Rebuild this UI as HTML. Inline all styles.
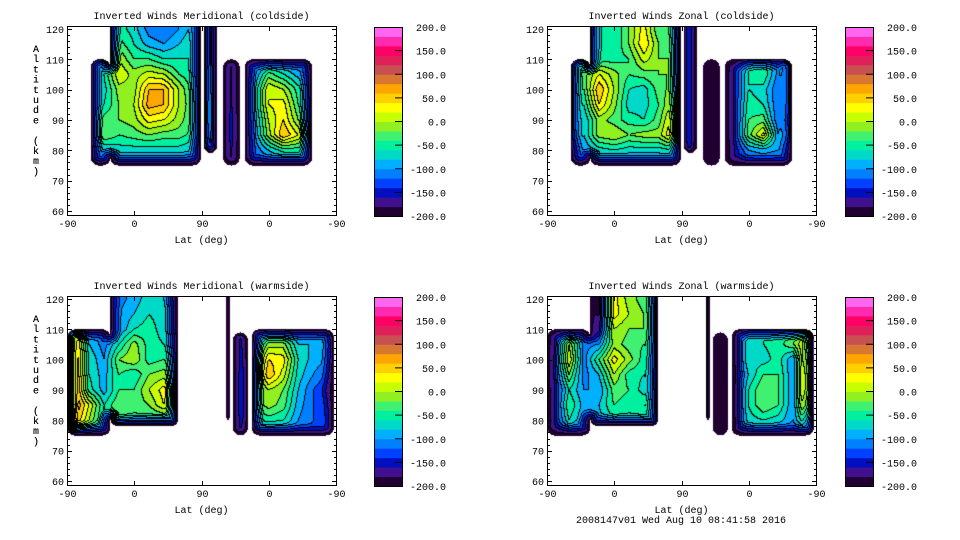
<!DOCTYPE html>
<html><head><meta charset="utf-8">
<style>
body{margin:0;background:#fff;width:960px;height:540px;overflow:hidden;position:relative;font-family:"Liberation Mono",monospace;}
canvas{position:absolute;}
svg{position:absolute;left:0;top:0;}
text{font-family:"Liberation Mono",monospace;font-size:10px;fill:#000;}
</style></head>
<body>
<div id="root"></div>
<svg id="svg" width="960" height="540"></svg>
<script>
const N = null;
const colS = [10,30,50,70,90,110,130,150,170,190,210,230,250,270,290,310,330,350];
const rowAlt = [120,115,110,105,100,95,90,85,80,75];
const colorLevels = [-200,-180,-160,-140,-120,-100,-80,-60,-40,-20,0,20,40,60,80,100,120,140,160,180,200];
const bandColors = ["#200030","#40108f","#0010c0","#0040ff","#0080ff","#00b0ff","#00d8c8","#00f0a0","#40f070","#90f020","#c8ff00","#ffff00","#ffd000","#ffa500","#d87830","#c85050","#e0205a","#ff0066","#ff2ab0","#ff66f0"];
const cbTickValues = [200,150,100,50,0,-50,-100,-150,-200];
const yTicks = [60,70,80,90,100,110,120];
const xTickLabels = ["-90","0","90","0","-90"];
const xTickPos = [0,90,180,270,360];

const tlValues = [
[N,-100,-80,-50,-70,-110,-120,-100,-70,-60,-150,-140,-130,-100,-100,-110,-120,N],
[N,-100,-70,-30,-60,-90,-100,-80,-60,-60,-150,-140,-130,-100,-100,-110,-120,N],
[N,-110,-60,0,-40,-40,-60,-60,-60,-60,-150,-140,-130,-110,-110,-120,-120,N],
[N,-100,-60,20,-10,10,0,-40,-60,-40,-150,-140,-110,-30,-60,-90,-100,N],
[N,-100,-70,-10,-10,60,60,0,-50,-40,-150,-140,-90,20,0,-50,-80,N],
[N,-100,-60,-20,0,70,60,0,-40,-30,-150,-140,-90,20,30,-40,-80,N],
[N,-100,-30,-20,-10,30,20,-10,-40,-30,-150,-130,-100,0,40,-20,-70,N],
[N,-100,-20,-40,-30,-20,-30,-30,-50,-40,-150,-130,-110,-10,60,20,-40,N],
[N,-120,-80,-70,-70,-70,-70,-70,-80,-90,-150,-140,-120,-80,-50,-50,-90,N],
[N,-130,-120,-120,-120,-120,-120,-120,-120,-130,-150,-150,-130,-120,-120,-120,-130,N]];
const trValues = [
[N,-100,-40,-60,-60,-20,30,-40,-40,-100,-180,-170,-170,-100,-80,-100,-80,N],
[N,-90,-20,-60,-60,-20,40,-20,-30,-100,-180,-170,-170,-100,-80,-100,-80,N],
[N,-80,-20,-50,-50,-40,10,-20,-20,-100,-180,-170,-170,-60,-50,-90,-40,N],
[N,-60,-30,20,-10,-40,-30,-20,-20,-100,-180,-170,-150,-60,-40,-110,0,N],
[N,-40,-40,60,0,-60,-70,-30,-10,-100,-180,-170,-150,-60,-70,-120,20,N],
[N,-30,-60,40,-10,-70,-70,-40,10,-100,-180,-170,-150,-50,-60,-120,0,N],
[N,-20,-80,-10,-30,-50,-60,-30,40,-100,-180,-170,-150,-40,-30,-120,-20,N],
[N,-40,-80,-10,0,-20,-10,-10,50,-100,-180,-170,-150,-30,30,-100,-10,N],
[N,-110,-100,-70,-60,-70,-70,-70,-60,-120,-180,-170,-160,-100,-90,-100,-100,N],
[N,-130,-130,-120,-120,-120,-120,-120,-120,-140,-180,-170,-160,-130,-130,-130,-130,N]];
const blValues = [
[-120,-110,-110,-110,-90,-70,-80,-140,N,N,-150,-140,-130,-110,-110,-120,-120,-120],
[-120,-110,-110,-100,-80,-60,-70,-130,N,N,-150,-140,-130,-110,-110,-120,-120,-120],
[60,-110,-110,-100,-60,-50,-70,-120,N,N,-150,-140,-130,-110,-110,-120,-120,-120],
[80,-80,-110,-60,-10,-50,-60,-100,N,N,-150,-140,-100,-10,-10,-80,-80,-90],
[90,-60,-100,-20,0,-50,-40,-60,N,N,-150,-140,-70,40,30,-60,-90,-100],
[90,-60,-90,-40,-60,-20,-10,-40,N,N,-150,-140,-60,60,10,-70,-100,-120],
[90,-50,-90,-40,-40,0,30,-30,N,N,-150,-140,-50,0,-20,-80,-120,-150],
[90,20,-60,-20,-30,-20,20,-20,N,N,-150,-140,-40,-10,-30,-90,-120,-130],
[70,0,-70,-30,-50,-50,-50,-60,N,N,-150,-140,-70,-50,-60,-100,-120,-120],
[-100,-120,-130,-120,-120,-120,-120,-120,N,N,-150,-150,-130,-120,-120,-130,-130,-130]];
const brValues = [
[-170,-120,-120,-180,30,-10,-30,-40,N,N,-80,-180,-160,-70,-60,-60,-60,-60],
[-170,-120,-120,-180,30,0,-20,-30,N,N,-80,-180,-160,-70,-60,-60,-60,-60],
[-160,-120,-120,-160,0,-20,-20,-30,N,N,-80,-180,-160,-70,-60,-60,-40,-20],
[-150,0,-110,-100,-10,-30,-40,-30,N,N,-80,-180,-160,-60,-60,-50,-20,40],
[-140,20,-110,-40,30,-10,-50,-40,N,N,-80,-180,-160,-60,-70,-50,-100,80],
[-140,-20,-110,-80,0,-50,-60,-50,N,N,-80,-180,-160,-80,-40,-40,-100,100],
[-150,-60,-100,-100,-30,-40,-70,-40,N,N,-80,-180,-160,-60,-20,-40,-100,100],
[-150,-40,-90,-80,-40,-50,-40,-30,N,N,-80,-180,-160,-60,-20,-40,-100,70],
[-150,-60,-100,-90,-60,-70,-60,-60,N,N,-80,-180,-160,-70,-60,-70,-100,-20],
[-160,-130,-130,-130,-120,-120,-120,-120,N,N,-120,-180,-160,-130,-130,-130,-130,-120]];

const coldSegments = [[32,58,75,110],[58,179,75,120],[183,201,79,120],[209,231,75,110],[238,328,75,110]];
const warmSegments = [[0,58,75,110],[58,149,78,120],[213,218,79,120],[222,242,75,109],[247,357,75,110]];

const panels = [
 {name:"meridional-coldside",title:"Inverted Winds Meridional (coldside)",x:67,y:26,cbx:374,values:tlValues,segs:coldSegments},
 {name:"zonal-coldside",title:"Inverted Winds Zonal (coldside)",x:547,y:26,cbx:845,values:trValues,segs:coldSegments},
 {name:"meridional-warmside",title:"Inverted Winds Meridional (warmside)",x:67,y:296,cbx:374,values:blValues,segs:warmSegments},
 {name:"zonal-warmside",title:"Inverted Winds Zonal (warmside)",x:547,y:296,cbx:845,values:brValues,segs:warmSegments}
];
const W=269,H=189,PPK=3.033,ALT_TOP=121;
const svg=document.getElementById('svg');
const NS="http://www.w3.org/2000/svg";
function mk(tag,attrs,parent){const e=document.createElementNS(NS,tag);for(const k in attrs)e.setAttribute(k,attrs[k]);(parent||svg).appendChild(e);return e;}
function xScale(s){return s/360*W;}
function yScale(a){return (ALT_TOP-a)*PPK;}
function bandOf(v){let b=Math.floor((v+200)/20);return Math.max(0,Math.min(19,b));}
function sample(vals,s,a){
  let fc=(s-colS[0])/20; fc=Math.max(0,Math.min(colS.length-1,fc));
  let fr=(rowAlt[0]-a)/5; fr=Math.max(0,Math.min(rowAlt.length-1,fr));
  const c0=Math.floor(fc),c1=Math.min(colS.length-1,c0+1),r0=Math.floor(fr),r1=Math.min(rowAlt.length-1,r0+1);
  const tx=fc-c0,ty=fr-r0;
  const pts=[[r0,c0,(1-tx)*(1-ty)],[r0,c1,tx*(1-ty)],[r1,c0,(1-tx)*ty],[r1,c1,tx*ty]];
  let sw=0,sv=0;
  for(const [r,c,w] of pts){const v=vals[r][c];if(v!==null){sw+=w;sv+=w*v;}}
  if(sw<1e-6){for(const [r,c] of pts){if(vals[r][c]!==null)return vals[r][c];}return -150;}
  return sv/sw;
}
function inSeg(sg,s,a,R){
  const top=sg[3]>=120?125:sg[3];
  if(s<sg[0]||s>sg[1]||a<sg[2]||a>top)return false;
  const dx=Math.min(xScale(s-sg[0]),xScale(sg[1]-s));
  const dyB=yScale(sg[2])-yScale(a);
  const dyT=sg[3]>=120?1e9:yScale(a)-yScale(sg[3]);
  const dy=Math.min(dyB,dyT);
  if(dx<R&&dy<R&&Math.hypot(R-dx,R-dy)>R)return false;
  return true;
}
panels.forEach(p=>{
  const g=mk('g',{});
  
  
  const cv=document.createElement('canvas');
  cv.width=W;cv.height=H;cv.style.left=p.x+'px';cv.style.top=p.y+'px';
  
  
  document.body.insertBefore(cv,svg);
  const ctx=cv.getContext('2d');
  const img=ctx.createImageData(W,H);
  const PAD=20,HH=H+PAD;
  const R=8,F=12;
  // mask with padding rows above plot top
  const dist=new Float32Array(W*HH);
  for(let py=0;py<HH;py++){
    const a=ALT_TOP-(py-PAD+0.5)/PPK;
    for(let px=0;px<W;px++){
      const s=(px+0.5)/W*360;
      let inside=false;
      for(const sg of p.segs){if(inSeg(sg,s,a,R)){inside=true;break;}}
      dist[py*W+px]=inside?1e6:0;
    }
  }
  // chamfer distance transform
  const D1=1,D2=1.414;
  for(let y=0;y<HH;y++)for(let x=0;x<W;x++){const i=y*W+x;if(dist[i]===0)continue;
    let d=dist[i];
    d=Math.min(d, x>0?dist[i-1]+D1:0+D1);
    if(y>0){d=Math.min(d,dist[i-W]+D1, x>0?dist[i-W-1]+D2:D2, x<W-1?dist[i-W+1]+D2:D2);} 
    if(x===0||x===W-1)d=Math.min(d,D1);
    dist[i]=d;}
  for(let y=HH-1;y>=0;y--)for(let x=W-1;x>=0;x--){const i=y*W+x;if(dist[i]===0)continue;
    let d=dist[i];
    d=Math.min(d, x<W-1?dist[i+1]+D1:D1);
    if(y<HH-1){d=Math.min(d,dist[i+W]+D1, x<W-1?dist[i+W+1]+D2:D2, x>0?dist[i+W-1]+D2:D2);} else d=Math.min(d,D1);
    dist[i]=d;}
  const bands=new Int16Array(W*H).fill(-1);
  for(let py=0;py<H;py++){
    const a=ALT_TOP-(py+0.5)/PPK;
    for(let px=0;px<W;px++){
      const d=dist[(py+PAD)*W+px];
      if(d<=0)continue;
      const s=(px+0.5)/W*360;
      let v=sample(p.values,s,a);
      const dd=d-0.5;
      if(dd<F)v=-200+(v+200)*Math.pow(Math.max(0,dd)/F,0.75);
      bands[py*W+px]=bandOf(v);
    }
  }
  for(let py=0;py<H;py++)for(let px=0;px<W;px++){
    const i=py*W+px,b=bands[i];if(b<0)continue;
    let col=bandColors[b];
    const r=px+1<W?bands[i+1]:-1,dn=py+1<H?bands[i+W]:-1;
    if((r>=0&&r!==b)||(dn>=0&&dn!==b))col="#000000";
    const n=parseInt(col.slice(1),16);
    img.data[i*4]=n>>16;img.data[i*4+1]=(n>>8)&255;img.data[i*4+2]=n&255;img.data[i*4+3]=255;
  }
  ctx.putImageData(img,0,0);
  const fr=mk('rect',{x:p.x+0.5,y:p.y+0.5,width:W,height:H,fill:'none',stroke:'#000','stroke-width':1},g);
  
  
  const t=mk('text',{x:p.x+W/2,y:p.y-7,'text-anchor':'middle'},g);t.textContent=p.title;
  
  
  for(let a=60;a<=120;a+=2){
    const yy=Math.round(p.y+yScale(a))+0.5;const L=(a%10===0)?5:3;
    mk('line',{x1:p.x,y1:yy,x2:p.x+L,y2:yy,stroke:'#000'},g);
    mk('line',{x1:p.x+W+1,y1:yy,x2:p.x+W+1-L,y2:yy,stroke:'#000'},g);
  }
  yTicks.forEach(a=>{const tl=mk('text',{x:p.x-3,y:p.y+yScale(a)+4,'text-anchor':'end'},g);tl.textContent=a;
    
    });
  xTickPos.forEach((s,i)=>{const xx=Math.round(p.x+xScale(s))+0.5;
    mk('line',{x1:xx,y1:p.y+H+1,x2:xx,y2:p.y+H-4,stroke:'#000'},g);
    mk('line',{x1:xx,y1:p.y,x2:xx,y2:p.y+5,stroke:'#000'},g);
    const tl=mk('text',{x:xx,y:p.y+H+12,'text-anchor':'middle'},g);tl.textContent=xTickLabels[i];
    
    });
  const xl=mk('text',{x:p.x+W/2,y:p.y+H+28,'text-anchor':'middle'},g);xl.textContent="Lat (deg)";
  
  
  const yl=mk('text',{x:36,y:p.y+25,'text-anchor':'middle'},g);
  
  
  "Altitude (km)".split('').forEach((ch,i)=>{const ts=mk('tspan',{x:36,y:p.y+26+i*10.2},yl);ts.textContent=ch;});
  const cb=mk('g',{},g);
  
  
  const cbTop=p.y+1,cbH=189,bh=cbH/20,cbW=28;
  bandColors.forEach((c,i)=>{const r=mk('rect',{x:p.cbx,y:cbTop+cbH-(i+1)*bh,width:cbW,height:bh+0.5,fill:c},cb);
    
    });
  mk('rect',{x:p.cbx+0.5,y:cbTop+0.5,width:cbW,height:cbH,fill:'none',stroke:'#000'},cb);
  cbTickValues.forEach(v=>{const yy=cbTop+cbH*(200-v)/400;
    if(v>-200&&v<200)mk('line',{x1:p.cbx+cbW-7,y1:yy,x2:p.cbx+cbW,y2:yy,stroke:'#000'},cb);
    const tl=mk('text',{x:p.cbx+72,y:yy+4,'text-anchor':'end'},cb);tl.textContent=v.toFixed(1);
    
    });
});
const ft=mk('text',{x:681,y:523,'text-anchor':'middle'});ft.textContent="2008147v01 Wed Aug 10 08:41:58 2016";


</script>
</body></html>
